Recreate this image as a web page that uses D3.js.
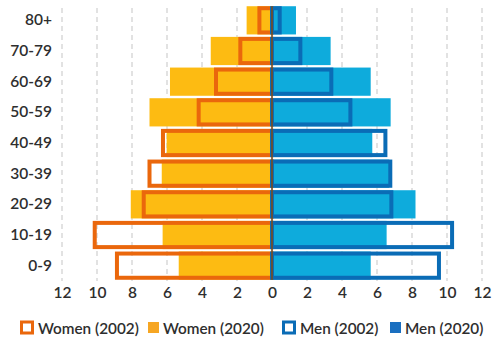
<!DOCTYPE html>
<html>
<head>
<meta charset="utf-8">
<script src="https://cdn.jsdelivr.net/npm/d3@7"></script>
<style>
  html, body { margin: 0; padding: 0; background: #fff; }
  svg { display: block; font-family: Lato, "Open Sans", sans-serif; }
</style>
</head>
<body>
<svg id="chart" width="492" height="337"></svg>
<script>
// Age groups, top to bottom
const ageGroups = ["80+", "70-79", "60-69", "50-59", "40-49", "30-39", "20-29", "10-19", "0-9"];

// Share of population (%) per age group
const women2002 = [0.72, 1.81, 3.2, 4.19, 6.23, 7.0, 7.33, 10.13, 8.86];
const women2020 = [1.45, 3.5, 5.83, 7.0, 6.02, 6.3, 8.07, 6.25, 5.33];
const men2002   = [0.44, 1.62, 3.39, 4.48, 6.48, 6.76, 6.82, 10.29, 9.54];
const men2020   = [1.37, 3.35, 5.64, 6.78, 5.73, 6.7, 8.2, 6.55, 5.64];

const tickValues = [-12, -10, -8, -6, -4, -2, 0, 2, 4, 6, 8, 10, 12];
const legendLabels = ["Women (2002)", "Women (2020)", "Men (2002)", "Men (2020)"];

const colors = {
  womenLine: "#ea670c",
  womenFill: "#fdbb12",
  womenKey: "#f6a623",
  menLine: "#0a6cb6",
  menFill: "#0eabdc",
  menKey: "#1a6fc0",
  axis: "#7a4a1c",
  grid: "#cfcfcf",
  text: "#2e2e2e"
};

const svg = d3.select("#chart");

const x = d3.scaleLinear().domain([-12, 12]).range([62, 482]);
const y = d3.scaleBand().domain(ageGroups).range([5, 281]).paddingInner(0.08).paddingOuter(0.04);

// Dashed vertical gridlines
svg.append("g")
  .selectAll("line")
  .data(tickValues.filter(d => d !== 0))
  .join("line")
  .attr("x1", d => x(d)).attr("x2", d => x(d))
  .attr("y1", 8).attr("y2", 281)
  .attr("stroke", colors.grid)
  .attr("stroke-width", 1.2)
  .attr("stroke-dasharray", "5,4");

// 2020 filled bars
const fills = svg.append("g");
fills.selectAll("rect.w20")
  .data(ageGroups)
  .join("rect")
  .attr("class", "w20")
  .attr("x", (d, i) => x(-women2020[i]))
  .attr("width", (d, i) => x(0) - x(-women2020[i]))
  .attr("y", d => y(d))
  .attr("height", y.bandwidth())
  .attr("fill", colors.womenFill);
fills.selectAll("rect.m20")
  .data(ageGroups)
  .join("rect")
  .attr("class", "m20")
  .attr("x", x(0))
  .attr("width", (d, i) => x(men2020[i]) - x(0))
  .attr("y", d => y(d))
  .attr("height", y.bandwidth())
  .attr("fill", colors.menFill);

// 2002 outlined bars
const sw = 4;
const outlines = svg.append("g").attr("fill", "none").attr("stroke-width", sw);
outlines.selectAll("rect.w02")
  .data(ageGroups)
  .join("rect")
  .attr("class", "w02")
  .attr("x", (d, i) => x(-women2002[i]))
  .attr("width", (d, i) => x(0) - x(-women2002[i]))
  .attr("y", d => y(d) + sw / 2)
  .attr("height", y.bandwidth() - sw)
  .attr("stroke", colors.womenLine);
outlines.selectAll("rect.m02")
  .data(ageGroups)
  .join("rect")
  .attr("class", "m02")
  .attr("x", x(0))
  .attr("width", (d, i) => x(men2002[i]) - x(0))
  .attr("y", d => y(d) + sw / 2)
  .attr("height", y.bandwidth() - sw)
  .attr("stroke", colors.menLine);

// Zero line
svg.append("line")
  .attr("x1", x(0)).attr("x2", x(0))
  .attr("y1", y(ageGroups[0])).attr("y2", y(ageGroups[ageGroups.length - 1]) + y.bandwidth())
  .attr("stroke", colors.axis)
  .attr("stroke-width", 1.6);

// Bottom axis: absolute values on both sides
const xAxis = d3.axisBottom(x)
  .tickValues(tickValues)
  .tickFormat(d => Math.abs(d))
  .tickSize(0)
  .tickPadding(0);
const gx = svg.append("g").attr("transform", "translate(0,283)").call(xAxis);
gx.select(".domain").remove();
gx.selectAll("text")
  .attr("dy", "0.71em")
  .attr("y", 4)
  .attr("fill", colors.text)
  .style("font-size", "15.5px")
  .style("font-weight", 600)
  .style("font-family", "Lato, sans-serif");

// Left axis: age groups
const yAxis = d3.axisLeft(y).tickSize(0).tickPadding(0);
const gy = svg.append("g").attr("transform", "translate(52,0)").call(yAxis);
gy.select(".domain").remove();
gy.selectAll("text")
  .attr("fill", colors.text)
  .style("font-size", "15.5px")
  .style("font-weight", 600)
  .style("font-family", "Lato, sans-serif");

// Legend
const legendX = [20, 148, 282, 390];
const legend = svg.append("g");
const items = legend.selectAll("g")
  .data(legendLabels)
  .join("g")
  .attr("transform", (d, i) => `translate(${legendX[i]},327.5)`);
items.each(function (d, i) {
  const g = d3.select(this);
  const outlined = i % 2 === 0;
  const isWomen = i < 2;
  if (outlined) {
    g.append("rect")
      .attr("x", 1.5).attr("y", -5.5)
      .attr("width", 11).attr("height", 11)
      .attr("fill", "#fff")
      .attr("stroke", isWomen ? colors.womenLine : colors.menLine)
      .attr("stroke-width", 3);
  } else {
    g.append("rect")
      .attr("x", 0).attr("y", -5.5)
      .attr("width", 11).attr("height", 11)
      .attr("fill", isWomen ? colors.womenKey : colors.menKey);
  }
  g.append("text")
    .attr("x", outlined ? 18 : 15)
    .attr("y", 6)
    .attr("fill", colors.text)
    .style("font-size", "15.3px")
    .style("font-weight", 600)
    .text(d);
});
</script>
</body>
</html>
